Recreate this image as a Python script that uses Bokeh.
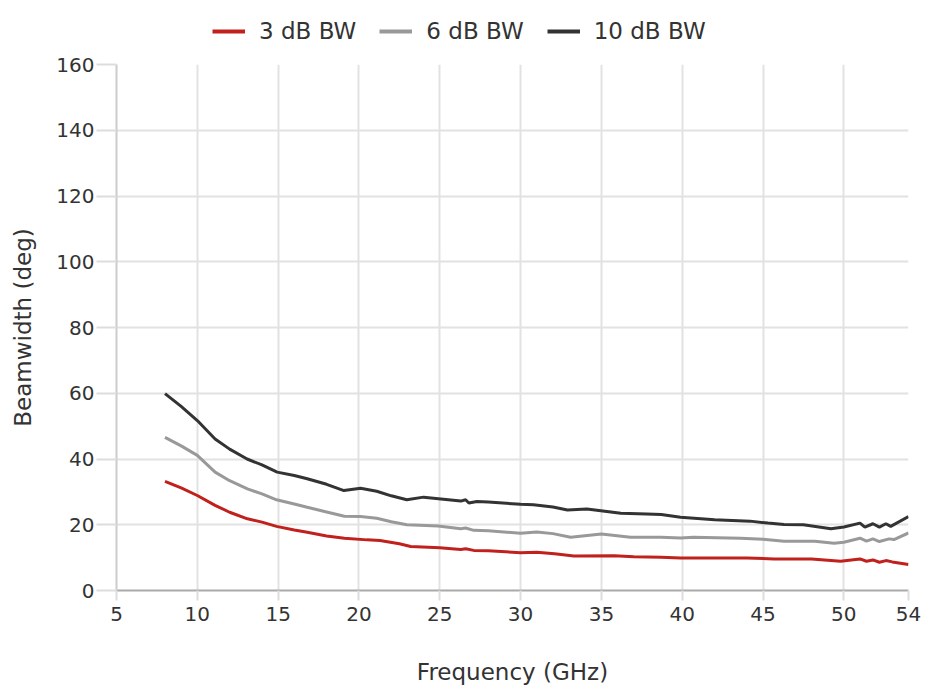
from bokeh.plotting import figure
from bokeh.models import Range1d, FixedTicker, Legend, LegendItem
from bokeh.layouts import column
from bokeh.embed import file_html
from bokeh.resources import INLINE

# ---- data ----
freq_3db = [8, 9, 10, 11.1, 12, 13.1, 14, 14.9, 16, 16.8, 18, 19.1, 20.5, 21.3, 22.5, 23.2, 25.0, 26.3, 26.6, 27.1, 28, 30.0, 31, 32.1, 33.3, 35.8, 37, 38.7, 39.9, 42.8, 44, 45.7, 48.0, 49.8, 51.0, 51.4, 51.8, 52.2, 52.6, 53, 54]
bw_3db = [33.2, 31.2, 28.9, 25.9, 23.8, 21.8, 20.8, 19.5, 18.4, 17.7, 16.6, 15.9, 15.4, 15.2, 14.2, 13.4, 13.0, 12.5, 12.7, 12.2, 12.1, 11.5, 11.6, 11.2, 10.5, 10.6, 10.3, 10.1, 9.9, 9.9, 9.9, 9.6, 9.6, 8.9, 9.6, 8.9, 9.3, 8.6, 9.1, 8.7, 7.9]

freq_6db = [8, 9, 10, 11.1, 12, 13.1, 14, 14.9, 16, 16.8, 18, 19.1, 20.1, 21.1, 22.0, 22.96, 24.9, 26.3, 26.6, 27.1, 28, 30.0, 31.0, 32, 33.1, 35.0, 36.8, 38.7, 39.9, 40.7, 43.6, 45, 46.3, 48.2, 49.4, 50.0, 51.0, 51.4, 51.8, 52.2, 52.8, 53.1, 54]
bw_6db = [46.6, 44.0, 41.1, 36.0, 33.4, 30.9, 29.4, 27.6, 26.3, 25.3, 23.9, 22.6, 22.5, 22.0, 20.9, 20.0, 19.6, 18.8, 19.0, 18.3, 18.2, 17.4, 17.8, 17.3, 16.2, 17.2, 16.2, 16.2, 16.0, 16.2, 15.9, 15.6, 15.0, 15.0, 14.4, 14.7, 15.9, 15.0, 15.7, 14.9, 15.7, 15.5, 17.5]

freq_10db = [8, 9, 10, 11.1, 12, 13.08, 14, 14.94, 16, 16.8, 18, 19.07, 20.1, 21.1, 22.0, 22.96, 24.0, 26.3, 26.6, 26.8, 27.3, 28, 30.0, 30.8, 32, 32.9, 34.1, 36.2, 37.8, 38.7, 39.9, 42.0, 44.2, 45.3, 46.3, 47.5, 49.2, 50.0, 51.0, 51.3, 51.8, 52.2, 52.6, 52.9, 54]
bw_10db = [59.9, 56.0, 51.7, 46.1, 43.0, 40.0, 38.2, 36.0, 35.0, 34.0, 32.3, 30.4, 31.1, 30.2, 28.8, 27.6, 28.4, 27.2, 27.6, 26.6, 27.1, 26.9, 26.2, 26.1, 25.4, 24.5, 24.8, 23.5, 23.3, 23.1, 22.3, 21.5, 21.1, 20.5, 20.1, 20.0, 18.8, 19.3, 20.5, 19.3, 20.3, 19.3, 20.3, 19.5, 22.5]

series_labels = ["3 dB BW", "6 dB BW", "10 dB BW"]
series_colors = ["#c0211c", "#999999", "#333333"]
x_ticks = [5, 10, 15, 20, 25, 30, 35, 40, 45, 50, 54]
y_ticks = [0, 20, 40, 60, 80, 100, 120, 140, 160]

FONT = "DejaVu Sans"
TXT = "#333333"

# ---- main plot ----
p = figure(frame_width=792, frame_height=526, output_backend="svg", toolbar_location=None,
           x_range=Range1d(5, 54), y_range=Range1d(0, 160),
           min_border_left=116, min_border_right=20, min_border_bottom=98, min_border_top=10)
p.outline_line_color = None

for xs, ys, col in zip([freq_3db, freq_6db, freq_10db], [bw_3db, bw_6db, bw_10db], series_colors):
    p.line(xs, ys, line_color=col, line_width=3)

p.xaxis.ticker = FixedTicker(ticks=x_ticks)
p.yaxis.ticker = FixedTicker(ticks=y_ticks)
p.xgrid.ticker = FixedTicker(ticks=x_ticks)
p.ygrid.ticker = FixedTicker(ticks=y_ticks)
p.grid.grid_line_color = "#e2e2e2"
p.grid.grid_line_width = 2

for ax in (p.xaxis[0], p.yaxis[0]):
    ax.major_label_text_font = FONT
    ax.major_label_text_font_size = "20px"
    ax.major_label_text_color = TXT
    ax.axis_label_text_font = FONT
    ax.axis_label_text_font_size = "23px"
    ax.axis_label_text_color = TXT
    ax.axis_label_text_font_style = "normal"
    ax.minor_tick_line_color = None
    ax.major_tick_in = 0
    ax.axis_line_width = 2
    ax.major_tick_line_width = 2

p.xaxis.axis_label = "Frequency (GHz)"
p.yaxis.axis_label = "Beamwidth (deg)"
p.xaxis.axis_line_color = "#aaaaaa"
p.xaxis.major_tick_line_color = "#dddddd"
p.xaxis.major_tick_out = 10
p.xaxis.major_label_standoff = 6
p.xaxis.axis_label_standoff = 35
p.yaxis.axis_line_color = "#cccccc"
p.yaxis.major_tick_line_color = "#dddddd"
p.yaxis.major_tick_out = 20
p.yaxis.major_label_standoff = 2
p.yaxis.axis_label_standoff = 17

# ---- legend strip above the plot ----
lf = figure(width=930, height=54, output_backend="svg", toolbar_location=None,
            x_range=Range1d(0, 1), y_range=Range1d(0, 1),
            min_border_left=0, min_border_right=0, min_border_bottom=0, min_border_top=8)
lf.axis.visible = False
lf.grid.visible = False
lf.outline_line_color = None
items = []
for lab, col in zip(series_labels, series_colors):
    # off-screen stand-in glyphs, used only for the legend swatches
    r = lf.line(x=[-2, -1], y=[-2, -2], line_color=col, line_width=4)
    items.append(LegendItem(label=lab, renderers=[r]))
legend = Legend(items=items, orientation="horizontal", location=(96, 10))
legend.label_text_font = FONT
legend.label_text_font_size = "23px"
legend.label_text_color = TXT
legend.glyph_width = 33
legend.glyph_height = 20
legend.label_standoff = 14
legend.spacing = 23
legend.border_line_color = None
legend.background_fill_alpha = 0
legend.padding = 4
legend.margin = 0
lf.add_layout(legend, "center")

layout = column(lf, p, spacing=0)
open("out.html", "w").write(file_html(layout, INLINE))
